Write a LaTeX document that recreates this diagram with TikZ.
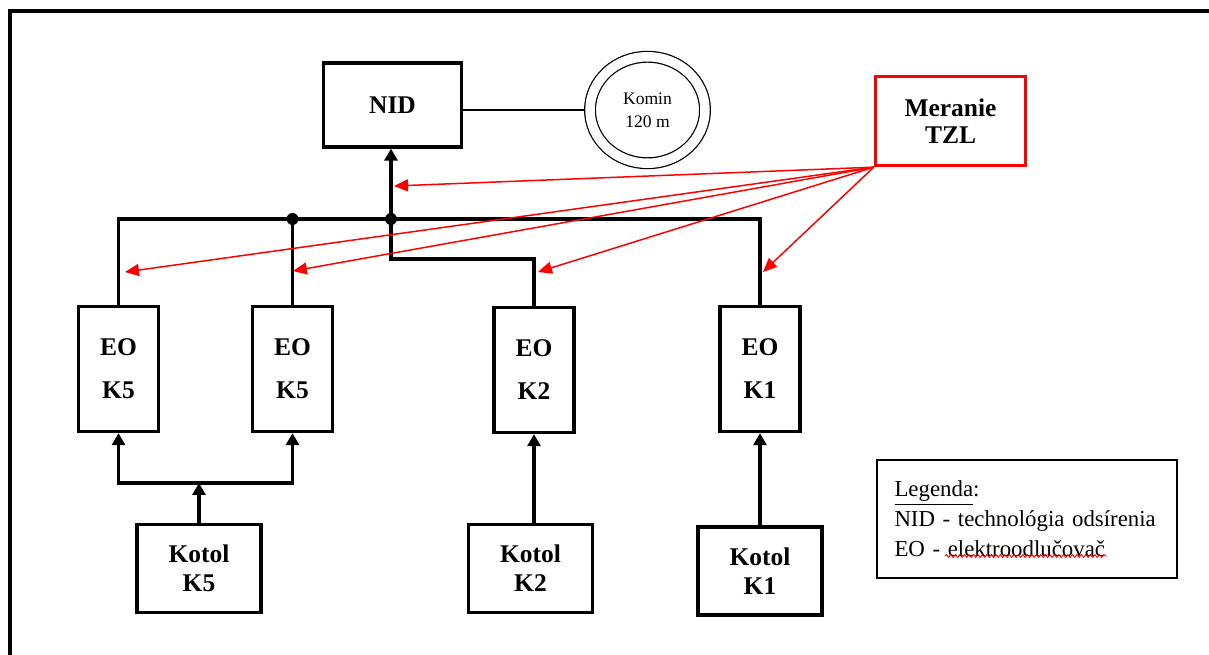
\documentclass[tikz,border=0pt]{standalone}
\usepackage{fontspec}
\setmainfont{Liberation Serif}
\usetikzlibrary{arrows.meta,shapes.geometric,decorations.pathmorphing}
\begin{document}
\begin{tikzpicture}[x=0.2mm,y=-0.2mm,
        tok/.style={line width=1.9pt},
        sip/.style={tok,-{Triangle[length=2.4mm,width=2.6mm]}},
        blok/.style={draw,line width=1.9pt,align=center,inner sep=0pt,font=\fontsize{14.5}{16.4}\selectfont\bfseries},
        eo/.style={blok,minimum width=16mm,minimum height=25mm,font=\fontsize{14.5}{24.4}\selectfont\bfseries},
        kotol/.style={blok,minimum width=24.8mm,minimum height=17.6mm},
        merka/.style={red,line width=0.85pt,-{Triangle[length=2.8mm,width=2.4mm]}}]
        \useasboundingbox (0,0) rectangle (1209,655);
        \draw[line width=1.9pt] (10,655) |- (1209,11);
        \node[blok,minimum width=27.6mm,minimum height=16.8mm] (nid) at (392.5,105) {NID};
        \node[draw,ellipse,line width=0.7pt,double,double distance=1.9mm,minimum width=23mm,minimum height=21.3mm,inner sep=0pt,align=center,font=\fontsize{10}{13}\selectfont] (komin) at (647.5,110) {Komin\\120 m};
        \node[blok,draw=red,minimum width=30mm,minimum height=17.8mm,font=\fontsize{14.5}{15.3}\selectfont\bfseries] (tzl) at (950.5,121) {Meranie\\TZL};
        \node[eo] (eoa) at (118.5,369) {EO\\K5};
        \node[eo] (eob) at (292.5,369) {EO\\K5};
        \node[eo] (eoc) at (534,370) {EO\\K2};
        \node[eo] (eod) at (760,369) {EO\\K1};
        \node[kotol] (ka) at (199,568.5) {Kotol\\K5};
        \node[kotol] (kb) at (530.5,568.5) {Kotol\\K2};
        \node[kotol] (kc) at (760,571) {Kotol\\K1};
        \node[draw,line width=0.85pt,align=left,text width=53mm,inner xsep=3.5mm,minimum height=23.6mm,font=\fontsize{13}{17}\selectfont] (legenda) at (1027,519) {\underline{Legenda}:\\NID - technológia odsírenia\\EO - elektroodlučovač};
        \coordinate (zbern) at (391,219);
        \coordinate (rozv) at (199,483);
        \draw[line width=0.85pt,shorten >=1mm] (nid.east |- komin) -- (komin.west);
        \draw[tok] (eoa.north) |- (zbern) -- (zbern -| eod.north) -- (eod.north);
        \draw[tok] (eob.north) -- (eob.north |- zbern);
        \draw[sip] (zbern) -- (zbern |- nid.south);
        \draw[tok] (zbern) -- ++(0,40) -| (eoc.north);
        \fill (zbern) circle (1.2mm);
        \fill (eob.north |- zbern) circle (1.2mm);
        \draw[sip] (ka.north) -- (rozv);
        \draw[sip] (rozv) -| (eoa.south);
        \draw[sip] (rozv) -| (eob.south);
        \draw[sip] (eoc.south |- kb.north) -- (eoc.south);
        \draw[sip] (kc.north) -- (eod.south);
        \coordinate (mnid) at (394,186);
        \coordinate (meoa) at (125,272);
        \coordinate (meob) at (293,271);
        \coordinate (meoc) at (538,272);
        \coordinate (meod) at (763,272);
        \foreach \ciel in {mnid,meoa,meob,meoc,meod}
                \draw[merka] (tzl.south west) -- (\ciel);
        \coordinate (vlnka) at (945,556);
        \draw[red,line width=0.5pt,decorate,decoration={snake,segment length=0.9mm,amplitude=0.3mm}] (vlnka) -- ++(162,0);
\end{tikzpicture}
\end{document}
